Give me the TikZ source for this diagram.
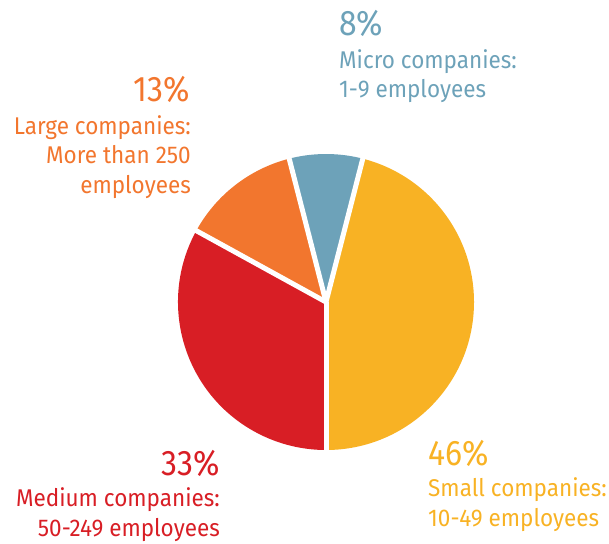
\documentclass[tikz,border=0pt]{standalone}
\usepackage{fontspec}
\setmainfont{Fira Sans}[FakeStretch=0.9]
\newfontfamily\lblfont{Fira Sans}[FakeStretch=0.93]
\definecolor{ycol}{HTML}{F8B224}
\definecolor{bcol}{HTML}{6DA2B9}
\definecolor{ocol}{HTML}{F2762E}
\definecolor{rcol}{HTML}{D81E25}
\tikzset{
  pct/.style={inner sep=0pt, font=\fontsize{35.5}{40}\selectfont},
  lbl/.style={inner sep=0pt, font=\lblfont\fontsize{24.2}{29}\selectfont},
  sep/.style={white, line width=5pt},
}
\begin{document}
\begin{tikzpicture}[x=1pt,y=-1pt]
\useasboundingbox (0,0) rectangle (609,543);
\begin{scope}[shift={(326,302)}, yscale=-1]
  \coordinate (c) at (0,0);
  \fill[ycol] (c) -- (-90:148) arc[start angle=-90, end angle=75.6, radius=148] -- cycle;
  \fill[bcol] (c) -- (75.6:148) arc[start angle=75.6, end angle=104.4, radius=148] -- cycle;
  \fill[ocol] (c) -- (104.4:148) arc[start angle=104.4, end angle=151.2, radius=148] -- cycle;
  \fill[rcol] (c) -- (151.2:148) arc[start angle=151.2, end angle=270, radius=148] -- cycle;
  \coordinate (e1) at (-90:152);
  \coordinate (e2) at (75.6:152);
  \coordinate (e3) at (104.4:152);
  \coordinate (e4) at (151.2:152);
  \draw[sep] (c) -- (e1);
  \draw[sep] (c) -- (e2);
  \draw[sep] (c) -- (e3);
  \draw[sep] (c) -- (e4);
\end{scope}
% Micro
\node[pct, text=bcol, anchor=base west] (p8) at (339,36) {8\%};
\node[lbl, text=bcol, anchor=base west] (m1) at (339,68.3) {Micro companies:};
\node[lbl, text=bcol, anchor=base west] (m2) at (339,97.8) {1-9 employees};
% Large
\node[pct, text=ocol, anchor=base east] (p13) at (190,101.7) {13\%};
\node[lbl, text=ocol, anchor=base east] (g1) at (191,134) {Large companies:};
\node[lbl, text=ocol, anchor=base east] (g2) at (191,163.5) {More than 250};
\node[lbl, text=ocol, anchor=base east] (g3) at (191,193) {employees};
% Medium
\node[pct, text=rcol, anchor=base east] (p33) at (220,475) {33\%};
\node[lbl, text=rcol, anchor=base east] (d1) at (220,506.7) {Medium companies:};
\node[lbl, text=rcol, anchor=base east] (d2) at (220,536.7) {50-249 employees};
% Small
\node[pct, text=ycol, anchor=base west] (p46) at (428,465) {46\%};
\node[lbl, text=ycol, anchor=base west] (s1) at (428,496.7) {Small companies:};
\node[lbl, text=ycol, anchor=base west] (s2) at (428,526.7) {10-49 employees};
\end{tikzpicture}
\end{document}
